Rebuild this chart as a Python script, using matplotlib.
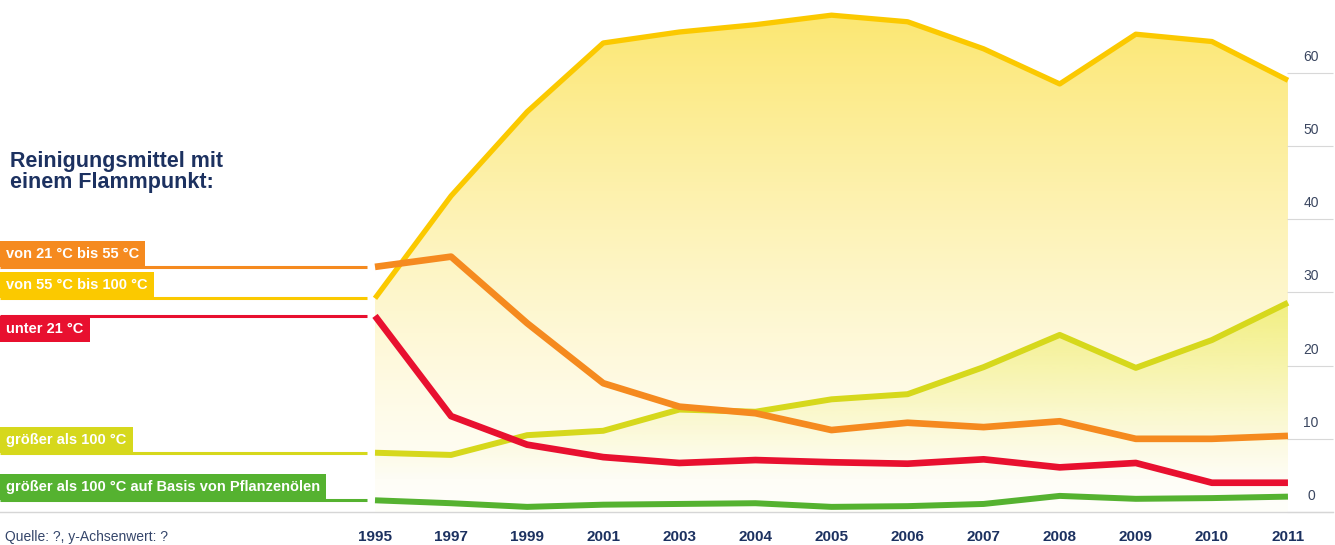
import numpy as np
import matplotlib
matplotlib.use('Agg')
import matplotlib.pyplot as plt

# Anteile der Reinigungsmittel nach Flammpunkt
years = ['1995', '1997', '1999', '2001', '2003', '2004', '2005',
         '2006', '2007', '2008', '2009', '2010', '2011']
fp_21_55 = [33.5, 34.9, 25.8, 17.6, 14.4, 13.5, 11.2, 12.2, 11.6, 12.4, 10.0, 10.0, 10.4]
fp_55_100 = [29.2, 43.2, 54.7, 64.1, 65.6, 66.6, 67.9, 67.0, 63.3, 58.5, 65.3, 64.3, 59.0]
fp_under_21 = [26.8, 13.1, 9.2, 7.5, 6.7, 7.1, 6.8, 6.6, 7.2, 6.1, 6.7, 4.0, 4.0]
fp_over_100 = [8.1, 7.8, 10.5, 11.1, 14.0, 13.7, 15.4, 16.1, 19.8, 24.2, 19.7, 23.5, 28.6]
fp_plant = [1.6, 1.2, 0.7, 1.0, 1.1, 1.2, 0.7, 0.8, 1.1, 2.2, 1.8, 1.9, 2.1]
y_ticks = [0, 10, 20, 30, 40, 50, 60]

labels = ['von 21 °C bis 55 °C', 'von 55 °C bis 100 °C', 'unter 21 °C',
          'größer als 100 °C', 'größer als 100 °C auf Basis von Pflanzenölen']

FONT = ['Liberation Sans', 'DejaVu Sans']
NAVY = '#1c3160'
C_ORANGE = '#f58a1f'
C_YELLOW = '#fbc900'
C_RED = '#e8102f'
C_LIME = '#d6d81c'
C_GREEN = '#55b230'

series = [fp_21_55, fp_55_100, fp_under_21, fp_over_100, fp_plant]
colors = [C_ORANGE, C_YELLOW, C_RED, C_LIME, C_GREEN]
box_side = ['bottom', 'bottom', 'top', 'bottom', 'bottom']
z = [6, 3, 7, 4, 5]
widths = [4.8, 3.8, 4.8, 4.3, 4.3]

W, H = 1335, 545
px_x = 76.08     # pixel per Jahresschritt
px_y = 7.317     # pixel per Prozentpunkt
y_zero = 512
x_first = 375

fig = plt.figure(figsize=(W / 100, H / 100), dpi=100)
ax = fig.add_axes([0, (H - y_zero) / H, 1333 / W, y_zero / H])
x = np.arange(len(years))

# Farbverlauf unter den beiden oberen Kurven
yy = np.linspace(0, 70, 300)[:, None]
t = np.clip(yy / 68, 0, 1) ** 1.3
a = 0.03 + 0.8 * t
base = np.array([251, 226, 85]) / 255
grad = np.ones((300, 1, 4))
grad[..., :3] = (1 - a[..., None]) * 1 + a[..., None] * base
poly = ax.fill_between(x, fp_55_100, 0, facecolor='none', edgecolor='none')
im = ax.imshow(grad, extent=[0, 12, 0, 70], origin='lower', aspect='auto', zorder=1)
im.set_clip_path(poly.get_paths()[0], transform=ax.transData)

g2 = np.zeros((300, 1, 4))
g2[..., :3] = np.array([230, 232, 50]) / 255
g2[..., 3] = (np.clip((yy - 4) / 25, 0, 1) ** 1.2 * 0.5)
poly2 = ax.fill_between(x, fp_over_100, 0, facecolor='none', edgecolor='none')
im2 = ax.imshow(g2, extent=[0, 12, 0, 70], origin='lower', aspect='auto', zorder=2)
im2.set_clip_path(poly2.get_paths()[0], transform=ax.transData)
ax.set_xlim(-x_first / px_x, (1333 - x_first) / px_x)
ax.set_ylim(0, y_zero / px_y)

# Linien und Legendenstriche links
x_left = -x_first / px_x
x_stub = -8 / px_x
for s, c, zz, lw, lab, side in zip(series, colors, z, widths, labels, box_side):
    ax.plot(x, s, color=c, lw=lw, zorder=zz, solid_joinstyle='round',
            solid_capstyle='butt', clip_on=False)
    ax.plot([x_left, x_stub], [s[0], s[0]], color=c, lw=2.2, zorder=zz,
            solid_capstyle='butt', clip_on=False)
    pad = 6
    off = pad if side == 'bottom' else -pad
    ax.annotate(lab, xy=(0, s[0]), xycoords=('figure pixels', 'data'),
                xytext=(6, off), textcoords='offset pixels', va=side, ha='left',
                color='white', fontsize=10.5, fontweight='bold', family=FONT,
                zorder=10, annotation_clip=False,
                bbox=dict(boxstyle='square,pad=0.42', fc=c, ec='none'))

# Achsen
for sp in ['top', 'left', 'right']:
    ax.spines[sp].set_visible(False)
ax.spines['bottom'].set_color('#d6d6d6')
ax.spines['bottom'].set_linewidth(1)
ax.set_xticks(x, years)
ax.tick_params(axis='x', length=0, pad=13, labelsize=11, labelcolor=NAVY)
for lbl in ax.get_xticklabels():
    lbl.set_fontweight('bold')
    lbl.set_family(FONT)
ax.yaxis.tick_right()
ax.set_yticks(y_ticks)
ax.tick_params(axis='y', direction='in', length=33, width=0.8, color='#d8d8d8',
               labelright=False, labelleft=False)
for v in y_ticks:
    ax.annotate(str(v), xy=(1, v), xycoords=('axes fraction', 'data'),
                xytext=(-22, 16), textcoords='offset pixels', ha='center', va='center',
                fontsize=10, color='#3a4660', family=FONT)

fig.text(10 / W, 1 - 151 / H, 'Reinigungsmittel mit\neinem Flammpunkt:',
         ha='left', va='top', fontsize=15.5, fontweight='bold', color=NAVY,
         family=FONT, linespacing=1.0)
fig.text(5 / W, 1 - 537 / H, 'Quelle: ?, y-Achsenwert: ?', ha='left', va='center',
         fontsize=10, color='#34456a', family=FONT)

fig.savefig('out.png', dpi=100)
